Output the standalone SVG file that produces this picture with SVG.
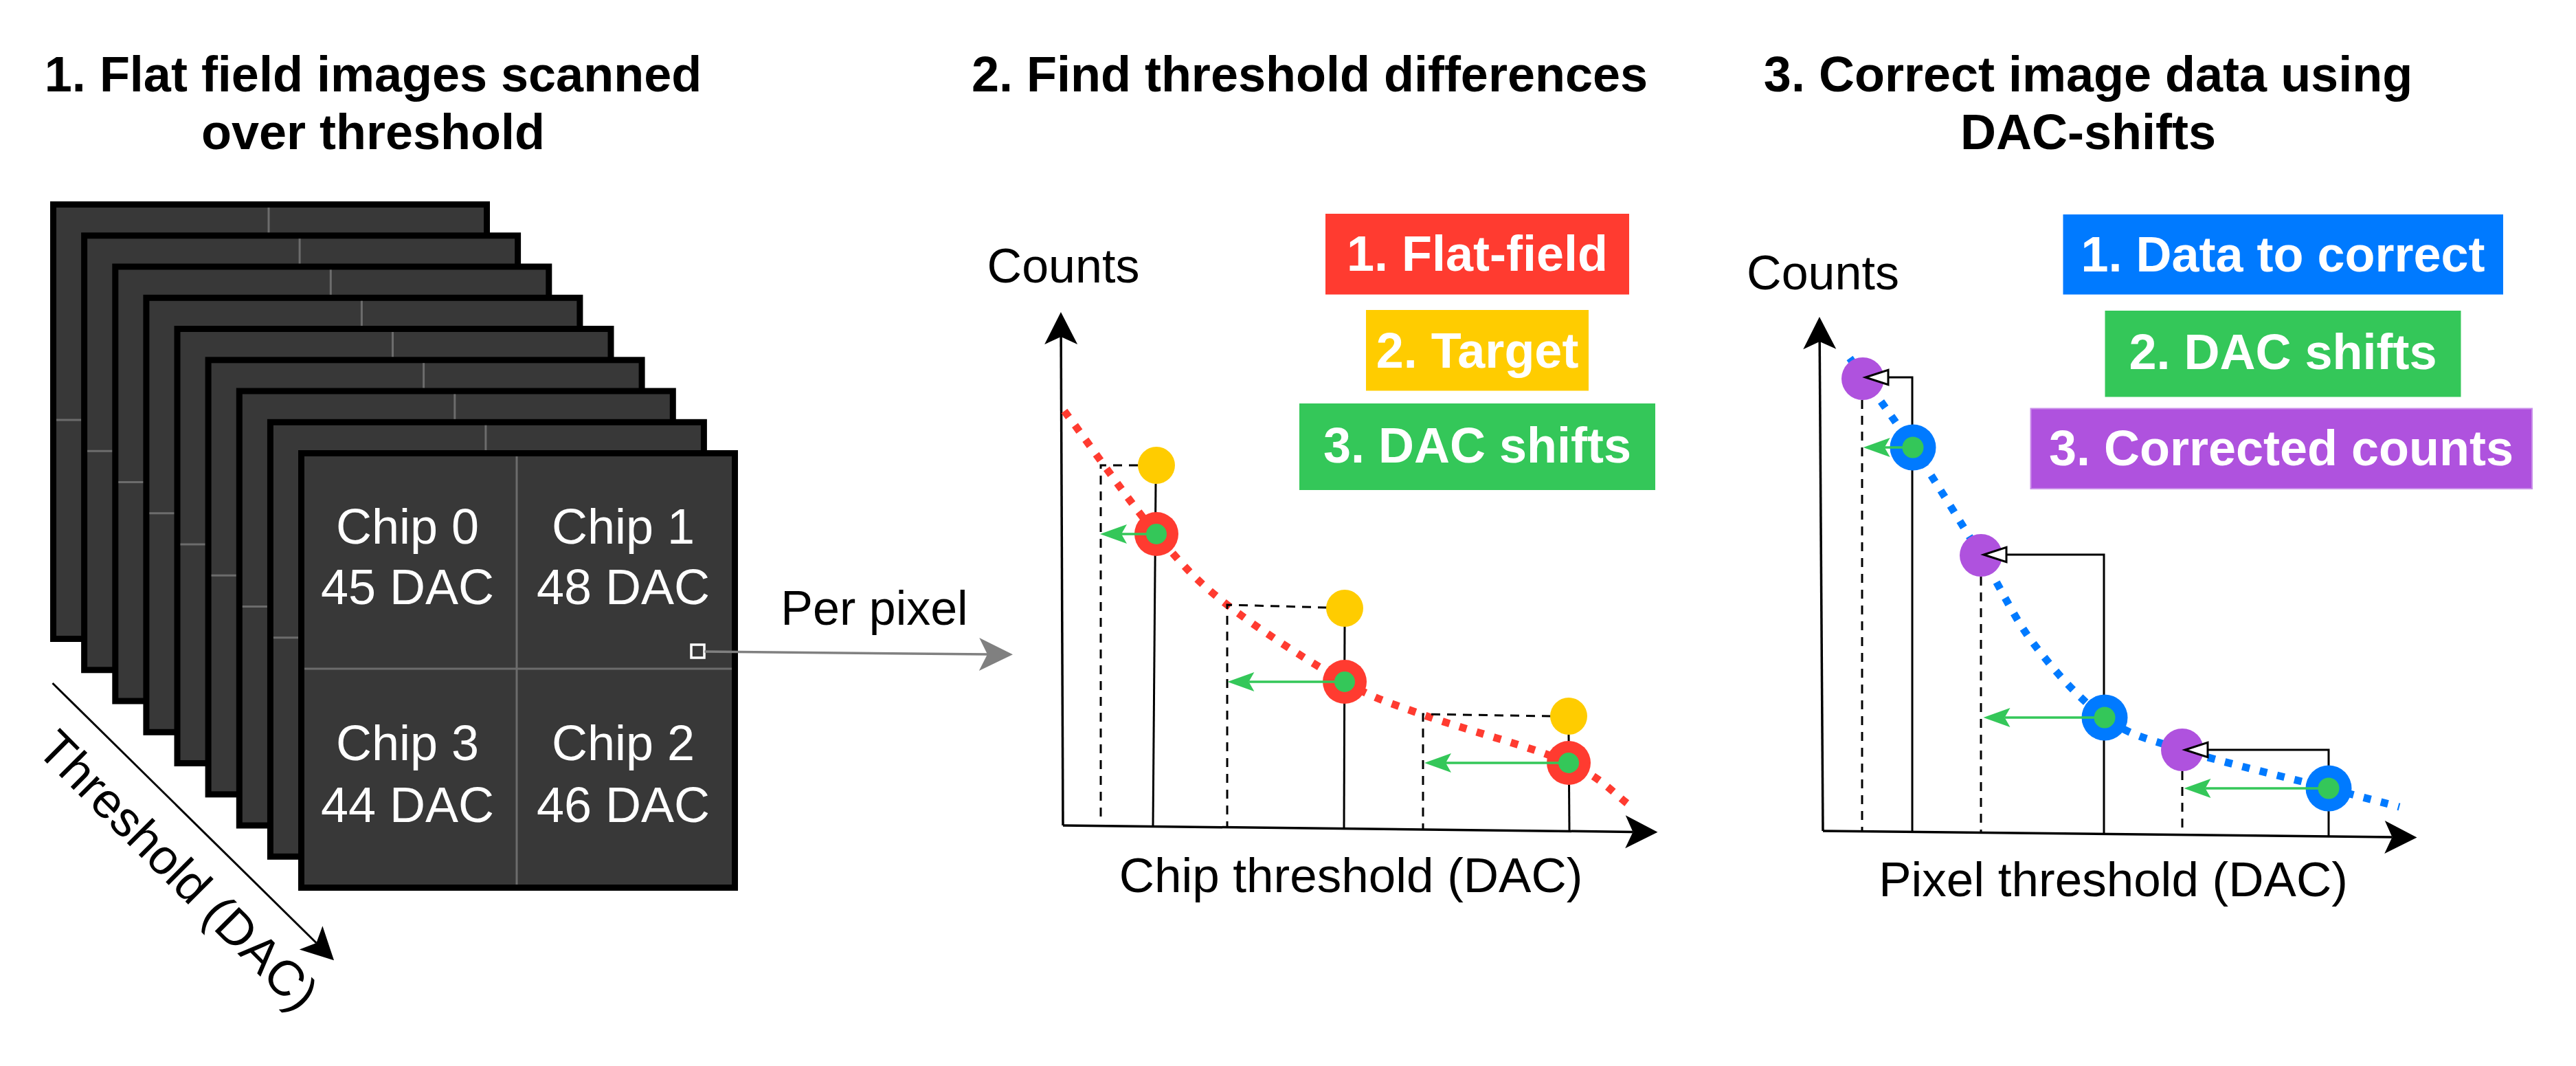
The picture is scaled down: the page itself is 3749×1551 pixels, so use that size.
<svg xmlns="http://www.w3.org/2000/svg" xmlns:xlink="http://www.w3.org/1999/xlink" width="3749" height="1551" viewBox="0 0 3749 1551">
<style>
  text{font-family:"Liberation Sans",Arial,sans-serif;text-anchor:middle}
  .title{font-weight:bold;font-size:72px;fill:#000}
  .lbl{font-size:71px;fill:#000}
  .chip{font-size:72px;fill:#fff}
  .leg{font-weight:bold;font-size:72px;fill:#fff}
  .frame{fill:#383838;stroke:#000;stroke-width:9}
  .cross{stroke:#6c6c6c;stroke-width:3}
  .axis{stroke:#000;stroke-width:3.5;fill:none}
  .stem{stroke:#000;stroke-width:3;fill:none}
  .dash{stroke:#000;stroke-width:3;stroke-dasharray:13 10;fill:none}
  .garrow{stroke:#34C759;stroke-width:3.5;fill:none}
  .curve{fill:none;stroke-width:11;stroke-dasharray:11 15}
</style>
<defs>
  <marker id="ax" markerUnits="userSpaceOnUse" viewBox="-14 -26 54 52" markerWidth="54" markerHeight="52" refX="0" refY="0" orient="auto">
    <path d="M36,0 L-11,-24 L0,0 L-11,24 Z" fill="#000"/>
  </marker>
  <marker id="gr" markerUnits="userSpaceOnUse" viewBox="-14 -26 54 52" markerWidth="54" markerHeight="52" refX="0" refY="0" orient="auto">
    <path d="M37,0 L-12,-24 L0,0 L-12,24 Z" fill="#808080"/>
  </marker>
  <marker id="ga" markerUnits="userSpaceOnUse" viewBox="-10 -16 44 32" markerWidth="44" markerHeight="32" refX="0" refY="0" orient="auto">
    <path d="M31,0 L-8,-14 L0,0 L-8,14 Z" fill="#34C759"/>
  </marker>
  <marker id="ha" markerUnits="userSpaceOnUse" viewBox="-4 -15 42 30" markerWidth="42" markerHeight="30" refX="0" refY="0" orient="auto">
    <path d="M33,0 L0,-10.8 L0,10.8 Z" fill="#fff" stroke="#000" stroke-width="3"/>
  </marker>
  <g id="frameShape">
    <rect class="frame" x="4.5" y="4.5" width="631" height="632"/>
    <line class="cross" x1="318" y1="9" x2="318" y2="632"/>
    <line class="cross" x1="9" y1="318" x2="631" y2="318"/>
  </g>
</defs>
<rect width="3749" height="1551" fill="#fff"/>

<g id="titles">
  <text class="title" x="543" y="133">1. Flat field images scanned</text>
  <text class="title" x="543" y="217">over threshold</text>
  <text class="title" x="1906" y="133">2. Find threshold differences</text>
  <text class="title" x="3039" y="133">3. Correct image data using</text>
  <text class="title" x="3039" y="217">DAC-shifts</text>
</g>

<g id="frame-stack">
  <use xlink:href="#frameShape" x="73" y="293"/>
  <use xlink:href="#frameShape" x="118.1" y="338.3"/>
  <use xlink:href="#frameShape" x="163.3" y="383.5"/>
  <use xlink:href="#frameShape" x="208.4" y="428.8"/>
  <use xlink:href="#frameShape" x="253.5" y="474"/>
  <use xlink:href="#frameShape" x="298.6" y="519.3"/>
  <use xlink:href="#frameShape" x="343.8" y="564.5"/>
  <use xlink:href="#frameShape" x="388.9" y="609.8"/>
  <use xlink:href="#frameShape" x="434" y="655"/>
  <text class="chip" x="593" y="791">Chip 0</text>
  <text class="chip" x="593" y="879">45 DAC</text>
  <text class="chip" x="907" y="791">Chip 1</text>
  <text class="chip" x="907" y="879">48 DAC</text>
  <text class="chip" x="593" y="1106">Chip 3</text>
  <text class="chip" x="593" y="1196">44 DAC</text>
  <text class="chip" x="907" y="1106">Chip 2</text>
  <text class="chip" x="907" y="1196">46 DAC</text>
  <rect id="pixel" x="1006" y="938" width="19" height="19" fill="none" stroke="#fff" stroke-width="3.5"/>
</g>

<g id="connectors">
  <path d="M76.5,994 L460.4,1372" stroke="#000" stroke-width="3" fill="none" marker-end="url(#ax)"/>
  <path d="M1025.5,948 L1437,952" stroke="#808080" stroke-width="3.5" fill="none" marker-end="url(#gr)"/>
</g>
<g id="threshold-label">
  <text class="lbl" transform="translate(242,1284) rotate(45)" style="font-size:72px">Threshold (DAC)</text>
</g>
<g id="per-pixel-label">
  <text class="lbl" x="1272.5" y="908.5" style="font-size:70px">Per pixel</text>
</g>

<g id="chart2">
  <text class="lbl" x="1547.5" y="410.5" style="font-size:70px">Counts</text>
  <text class="lbl" x="1966" y="1298">Chip threshold (DAC)</text>
  <path class="axis" d="M1547,1201 L1544.1,490" marker-end="url(#ax)"/>
  <path class="axis" d="M1547,1201 L2376.5,1210.4" marker-end="url(#ax)"/>
  <path class="curve" stroke="#FF3B30" d="M1549,598 C1593.7,657.7 1643.5,730 1683,777 C1722.5,824 1740.3,844.2 1786,880 C1831.7,915.8 1909.5,965.3 1957,992 C2004.5,1018.7 2016.7,1020.3 2071,1040 C2125.3,1059.7 2231.7,1087.2 2283,1110 C2334.3,1132.8 2347,1154.7 2379,1177"/>
  <path class="dash" d="M1656,677 L1602,677 L1602,1190"/>
  <path class="dash" d="M1931,884 L1786,880 L1786,1202"/>
  <path class="dash" d="M2257,1042 L2071,1039 L2071,1206"/>
  <path class="stem" d="M1682,704 L1678,1202"/>
  <path class="stem" d="M1957,911 L1956,1205"/>
  <path class="stem" d="M2283,1069 L2284,1209.5"/>
  <g id="c2-point1">
    <circle cx="1683" cy="777" r="32" fill="#FF3B30"/>
    <path class="garrow" d="M1683,777 L1632,777" marker-end="url(#ga)"/>
    <circle cx="1683" cy="777" r="15" fill="#34C759"/>
    <circle cx="1683" cy="677" r="27" fill="#FFCC00"/>
  </g>
  <g id="c2-point2">
    <circle cx="1957" cy="992" r="32" fill="#FF3B30"/>
    <path class="garrow" d="M1957,992 L1817.4,992" marker-end="url(#ga)"/>
    <circle cx="1957" cy="992" r="15" fill="#34C759"/>
    <circle cx="1957" cy="885" r="27" fill="#FFCC00"/>
  </g>
  <g id="c2-point3">
    <circle cx="2283" cy="1110" r="32" fill="#FF3B30"/>
    <path class="garrow" d="M2283,1110 L2104,1110" marker-end="url(#ga)"/>
    <circle cx="2283" cy="1110" r="15" fill="#34C759"/>
    <circle cx="2283" cy="1042" r="27" fill="#FFCC00"/>
  </g>
  <g id="legend2-flat">
    <rect x="1929" y="311" width="442" height="117.5" fill="#FF3B30"/>
    <text class="leg" x="2150" y="394">1. Flat-field</text>
  </g>
  <g id="legend2-target">
    <rect x="1988" y="451" width="324" height="117.5" fill="#FFCC00"/>
    <text class="leg" x="2150" y="535">2. Target</text>
  </g>
  <g id="legend2-shifts">
    <rect x="1891" y="587" width="518" height="126" fill="#34C759"/>
    <text class="leg" x="2150" y="673">3. DAC shifts</text>
  </g>
</g>

<g id="chart3">
  <text class="lbl" x="2653" y="421" style="font-size:70px">Counts</text>
  <text class="lbl" x="3075.5" y="1304">Pixel threshold (DAC)</text>
  <path class="axis" d="M2653,1209 L2648.2,497" marker-end="url(#ax)"/>
  <path class="axis" d="M2653,1209 L3481.5,1218" marker-end="url(#ax)"/>
  <path class="curve" stroke="#007AFF" d="M2692,521 C2722.7,564.3 2752.2,603.2 2784,651 C2815.8,698.8 2853.7,760.3 2883,808 C2912.3,855.7 2930,897.7 2960,937 C2990,976.3 3027,1018.3 3063,1044 C3099,1069.7 3121.7,1073.8 3176,1091 C3230.3,1108.2 3336.3,1133.2 3389,1147 C3441.7,1160.8 3457.7,1165 3492,1174"/>
  <path class="dash" d="M2710,582 L2710,1209.6"/>
  <path class="dash" d="M2883,839 L2883,1211.5"/>
  <path class="dash" d="M3176,1122 L3176,1214.7"/>
  <circle cx="2711" cy="551" r="31" fill="#AF52DE"/>
  <circle cx="2883" cy="808" r="31" fill="#AF52DE"/>
  <circle cx="3176" cy="1091" r="31" fill="#AF52DE"/>
  <path class="stem" d="M2783,1210.4 L2783,549 L2748,549" marker-end="url(#ha)"/>
  <path class="stem" d="M3062,1213.5 L3062,807 L2920,807" marker-end="url(#ha)"/>
  <path class="stem" d="M3389,1217 L3389,1091 L3213,1091" marker-end="url(#ha)"/>
  <g id="c3-point1">
    <circle cx="2784" cy="651" r="33.5" fill="#007AFF"/>
    <path class="garrow" d="M2784,651 L2742.7,651" marker-end="url(#ga)"/>
    <circle cx="2784" cy="651" r="15.5" fill="#34C759"/>
  </g>
  <g id="c3-point2">
    <circle cx="3063" cy="1044" r="33.5" fill="#007AFF"/>
    <path class="garrow" d="M3063,1044 L2917.5,1044" marker-end="url(#ga)"/>
    <circle cx="3063" cy="1044" r="15.5" fill="#34C759"/>
  </g>
  <g id="c3-point3">
    <circle cx="3389" cy="1147" r="33.5" fill="#007AFF"/>
    <path class="garrow" d="M3389,1147 L3209.5,1147" marker-end="url(#ga)"/>
    <circle cx="3389" cy="1147" r="15.5" fill="#34C759"/>
  </g>
  <g id="legend3-data">
    <rect x="3002.5" y="312" width="640.5" height="116.5" fill="#007AFF"/>
    <text class="leg" x="3322.5" y="395">1. Data to correct</text>
  </g>
  <g id="legend3-shifts">
    <rect x="3063.5" y="452" width="518" height="125.5" fill="#34C759"/>
    <text class="leg" x="3322.5" y="537">2. DAC shifts</text>
  </g>
  <g id="legend3-corrected">
    <rect x="2955.5" y="594.5" width="729.5" height="116.5" fill="#AF52DE" stroke="#C98EE9" stroke-width="2"/>
    <text class="leg" x="3320" y="677">3. Corrected counts</text>
  </g>
</g>
</svg>
